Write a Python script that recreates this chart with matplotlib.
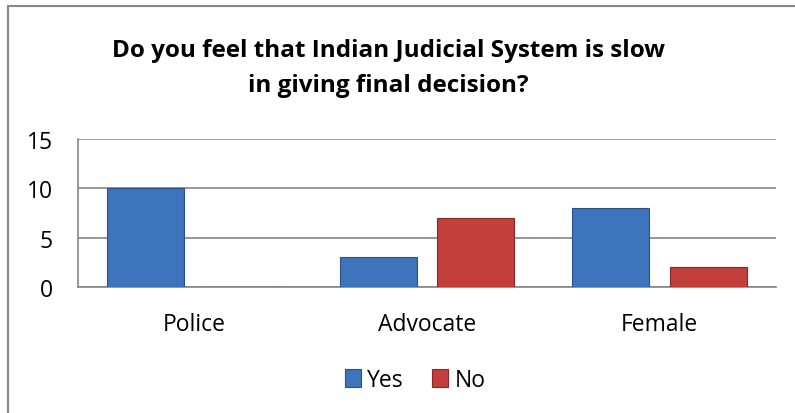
import numpy as np
import matplotlib.pyplot as plt
from matplotlib.patches import Rectangle

categories = ['Police', 'Advocate', 'Female']
yes_vals = [10, 3, 8]
no_vals = [0, 7, 2]
series = ['Yes', 'No']
yticks = [0, 5, 10, 15]

blue = '#3d74bb'
red = '#c23f3c'

plt.rcParams['font.family'] = ['Open Sans', 'DejaVu Sans']

W, H = 795, 414
fig = plt.figure(figsize=(W / 100, H / 100), dpi=100)
ax = fig.add_axes([78 / W, 1 - 288 / H, 698 / W, 148 / H])

x = np.arange(len(categories))
w = 0.331
off = 0.21
ax.bar(x - off, yes_vals, w, color=blue, edgecolor='#2a5288', linewidth=0.8, label=series[0], zorder=3)
ax.bar(x + off, no_vals, w, color=red, edgecolor='#8a2826', linewidth=0.8, label=series[1], zorder=3)

ax.set_xlim(-0.5, 2.5)
ax.set_ylim(0, 15)
ax.set_yticks(yticks)
ax.set_xticks(x)
ax.set_xticklabels(categories, fontsize=16.5)
ax.tick_params(axis='y', labelsize=16.5, length=0, pad=18)
ax.tick_params(axis='x', length=0, pad=18)
ax.grid(axis='y', color='#868686', linewidth=1.2, zorder=0)
for s in ['top', 'right']:
    ax.spines[s].set_visible(False)
for s in ['left', 'bottom']:
    ax.spines[s].set_color('#868686')
    ax.spines[s].set_linewidth(1.2)

fig.text(388 / W, 1 - 57 / H, 'Do you feel that Indian Judicial System is slow',
         ha='center', va='baseline', fontsize=17.5, fontweight='bold')
fig.text(388 / W, 1 - 92 / H, 'in giving final decision?',
         ha='center', va='baseline', fontsize=17.5, fontweight='bold')

ax.legend(loc='center', bbox_to_anchor=(415 / W, 1 - 381 / H), bbox_transform=fig.transFigure,
          ncol=2, frameon=False, fontsize=16.5, handlelength=0.7, handleheight=0.8,
          handletextpad=0.3, columnspacing=1.2, borderpad=0)

fig.add_artist(Rectangle((8 / W, -10 / H), (W + 10) / W, (H + 3) / H, transform=fig.transFigure,
                         fill=False, edgecolor='#868686', linewidth=1.5))

fig.savefig('out.png', dpi=100)
